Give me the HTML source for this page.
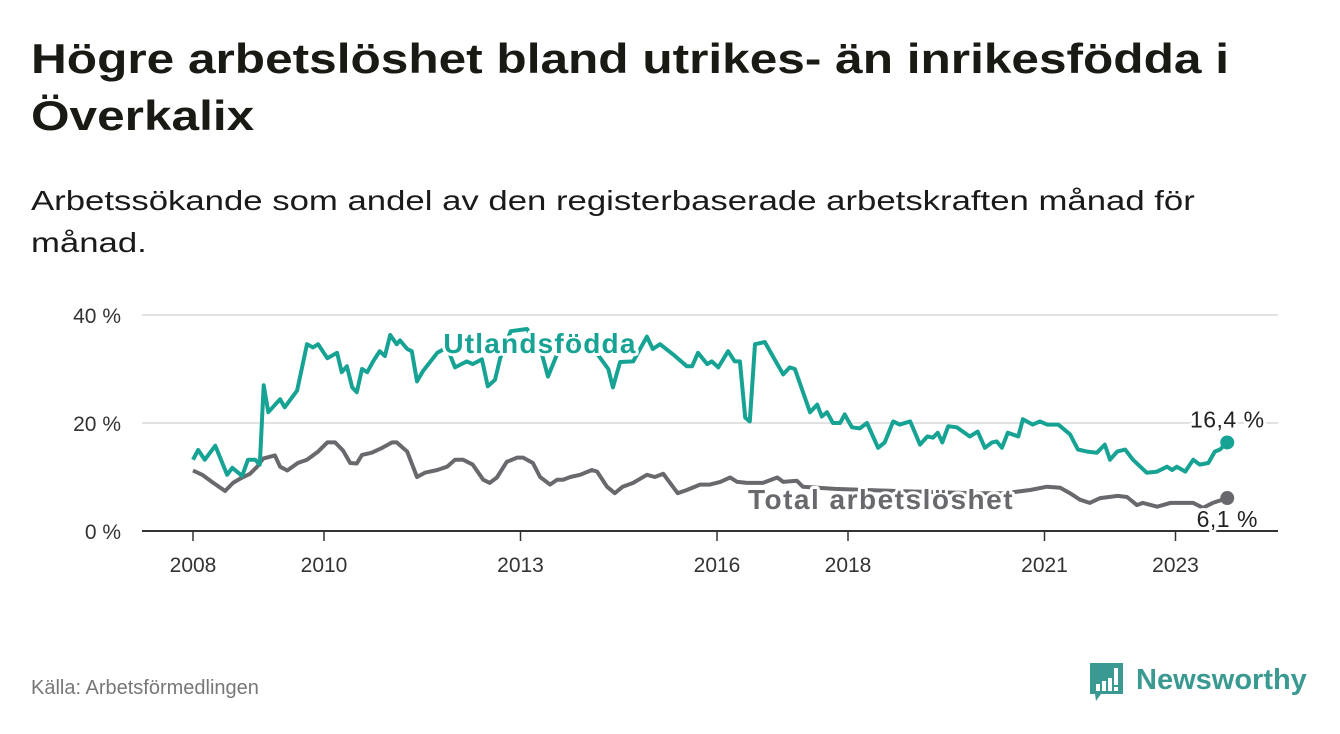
<!DOCTYPE html>
<html><head><meta charset="utf-8"><style>
body{margin:0;background:#fff;font-family:"Liberation Sans","DejaVu Sans",sans-serif;}
#wrap{position:relative;width:1340px;height:734px;overflow:hidden;background:#fff;}
h1{position:absolute;left:31px;top:30px;margin:0;font-size:42px;line-height:57px;font-weight:bold;color:#1a1a14;white-space:nowrap;transform:scaleX(1.18);transform-origin:0 0;}
.sub{position:absolute;left:31px;top:180px;margin:0;font-size:28px;line-height:42px;color:#1a1a1a;white-space:nowrap;transform:scaleX(1.24);transform-origin:0 0;}
.src{position:absolute;left:31px;top:677px;font-size:20px;color:#777;}
svg{position:absolute;left:0;top:0;}
</style></head><body>
<div id="wrap">
<h1>Högre arbetslöshet bland utrikes- än inrikesfödda i<br>Överkalix</h1>
<p class="sub">Arbetssökande som andel av den registerbaserade arbetskraften månad för<br>månad.</p>
<div class="src">Källa: Arbetsförmedlingen</div>
<svg id="chart" width="1340" height="734"></svg>
</div>
<script>
const utlDates=[2008.00,2008.08,2008.18,2008.34,2008.52,2008.60,2008.75,2008.84,2008.95,2009.02,2009.08,2009.15,2009.33,2009.40,2009.59,2009.74,2009.83,2009.91,2010.05,2010.20,2010.27,2010.35,2010.43,2010.50,2010.58,2010.66,2010.75,2010.85,2010.93,2011.01,2011.11,2011.16,2011.27,2011.34,2011.42,2011.51,2011.73,2011.88,2012.00,2012.18,2012.27,2012.41,2012.50,2012.61,2012.69,2012.85,2013.10,2013.30,2013.42,2013.60,2013.90,2014.10,2014.34,2014.41,2014.52,2014.72,2014.93,2015.02,2015.13,2015.33,2015.54,2015.62,2015.71,2015.85,2015.92,2016.02,2016.17,2016.27,2016.35,2016.43,2016.50,2016.58,2016.73,2016.85,2017.01,2017.11,2017.19,2017.42,2017.53,2017.60,2017.68,2017.77,2017.88,2017.95,2018.06,2018.18,2018.29,2018.46,2018.56,2018.69,2018.79,2018.95,2019.10,2019.21,2019.30,2019.37,2019.44,2019.53,2019.66,2019.86,2019.98,2020.09,2020.20,2020.27,2020.35,2020.44,2020.60,2020.67,2020.82,2020.93,2021.04,2021.21,2021.39,2021.51,2021.65,2021.80,2021.92,2022.00,2022.11,2022.23,2022.35,2022.56,2022.72,2022.87,2022.95,2023.02,2023.15,2023.27,2023.37,2023.50,2023.60,2023.68,2023.79];
const utlValues=[13.2,15,13.2,15.8,10.4,11.7,10.2,13.2,13.2,12.3,27,22,24.4,22.9,26,34.6,34,34.6,32,33,29.4,30.5,26.6,25.7,30,29.4,31.4,33.3,32.4,36.3,34.6,35.3,33.7,33.3,27.7,29.6,33,34,30.3,31.4,30.9,31.8,26.8,28,32,37,37.4,34,28.6,34,35,34,30,26.6,31.3,31.4,36,33.7,34.6,32.7,30.5,30.5,33,30.9,31.4,30.3,33.3,31.4,31.4,21,20.3,34.6,35,32.4,29,30.3,30,22,23.4,21.2,22,20,20,21.6,19.2,19,20,15.4,16.4,20.3,19.7,20.3,16,17.5,17.3,18.2,16.4,19.4,19.2,17.5,18.4,15.4,16.4,16.6,15.4,18.2,17.5,20.7,19.7,20.3,19.7,19.7,17.9,15.1,14.7,14.5,16,13.2,14.7,15.1,13.2,10.8,11,11.9,11.3,11.9,11,13.2,12.3,12.6,14.7,15.1,16.4];
const totDates=[2008.00,2008.14,2008.31,2008.49,2008.61,2008.72,2008.87,2008.98,2009.07,2009.25,2009.33,2009.44,2009.60,2009.74,2009.91,2010.05,2010.17,2010.29,2010.40,2010.50,2010.58,2010.73,2010.89,2011.04,2011.11,2011.27,2011.42,2011.54,2011.73,2011.88,2012.00,2012.12,2012.27,2012.43,2012.53,2012.64,2012.79,2012.95,2013.04,2013.19,2013.30,2013.45,2013.56,2013.65,2013.76,2013.91,2014.09,2014.17,2014.32,2014.44,2014.56,2014.72,2014.93,2015.05,2015.18,2015.40,2015.54,2015.74,2015.89,2016.05,2016.20,2016.31,2016.46,2016.70,2016.92,2017.01,2017.22,2017.31,2017.80,2018.50,2019.30,2020.00,2020.40,2020.78,2021.04,2021.24,2021.39,2021.54,2021.69,2021.85,2022.12,2022.26,2022.41,2022.50,2022.72,2022.92,2023.27,2023.42,2023.57,2023.79];
const totValues=[11.2,10.4,8.9,7.4,8.9,9.7,10.6,11.9,13.4,14,11.9,11.2,12.6,13.2,14.7,16.4,16.4,14.9,12.6,12.5,14.1,14.5,15.4,16.4,16.4,14.7,10,10.8,11.3,11.9,13.2,13.2,12.3,9.5,8.9,9.9,12.8,13.6,13.6,12.6,10,8.6,9.5,9.5,10,10.4,11.3,11,8.2,7,8.2,8.9,10.4,10,10.6,7,7.6,8.6,8.6,9.1,9.9,9.1,8.9,8.9,9.9,9.1,9.3,8.2,7.8,7.5,7.2,7.0,7.0,7.6,8.2,8,7,5.8,5.2,6.1,6.5,6.3,4.8,5.2,4.5,5.2,5.2,4.3,5.2,6.1];
const xTicks=[2008,2010,2013,2016,2018,2021,2023];
const yTicks=[0,20,40];
const yTickLabels=["0 %","20 %","40 %"];

const NS="http://www.w3.org/2000/svg";
const svg=document.getElementById('chart');
const X=v=>193+(v-2008)*65.5;
const Y=v=>531-v*5.4;
function el(tag,attrs,parent){const e=document.createElementNS(NS,tag);for(const k in attrs)e.setAttribute(k,attrs[k]);(parent||svg).appendChild(e);return e;}
const teal="#17a394",gray="#69686d";
yTicks.forEach((t,i)=>{
  if(t>0){const g=el('line',{x1:142,x2:1278,y1:Y(t),y2:Y(t),stroke:'#d9d9d9','stroke-width':1.5});
  
  }
  const tx=el('text',{x:121,y:Y(t)+8,'text-anchor':'end','font-size':21,fill:'#333'});
  
  
  tx.textContent=yTickLabels[i];
});
const ax=el('line',{x1:142,x2:1278,y1:531,y2:531,stroke:'#333','stroke-width':2});


xTicks.forEach(t=>{
  const tk=el('line',{x1:X(t),x2:X(t),y1:531,y2:541,stroke:'#333','stroke-width':1.5});
  
  
  const tx=el('text',{x:X(t),y:572,'text-anchor':'middle','font-size':21,fill:'#333'});
  
  
  tx.textContent=t;
});
function line(d,v,c,name){
  const p=el('path',{d:d.map((x,i)=>(i?'L':'M')+X(x).toFixed(1)+','+Y(v[i]).toFixed(1)).join(''),fill:'none',stroke:c,'stroke-width':4,'stroke-linejoin':'round'});
  
  
  const n=d.length-1;
  const c1=el('circle',{cx:X(d[n]),cy:Y(v[n]),r:7,fill:c});
  
  
}
line(totDates,totValues,gray,'total-line');
line(utlDates,utlValues,teal,'utlandsfodda-line');
function label(x,y,txt,c,size,w,anchor,ls,name){
  const t=el('text',{x:x,y:y,'text-anchor':anchor,'font-size':size,'font-weight':w,fill:c,stroke:'#fff','stroke-width':6,'paint-order':'stroke','stroke-linejoin':'round','letter-spacing':ls});
  
  
  t.textContent=txt;
}
label(540,353,'Utlandsfödda',teal,28,'bold','middle',1.2,'series-label-utlandsfodda');
label(881,509,'Total arbetslöshet',gray,28,'bold','middle',1.5,'series-label-total');
const ni=utlDates.length-1, nt=totDates.length-1;
label(X(utlDates[ni]),Y(utlValues[ni])-15,utlValues[ni].toFixed(1).replace('.',',')+' %','#222',23,'normal','middle',0.5,'end-value-utlandsfodda');
label(X(totDates[nt]),Y(totValues[nt])+29,totValues[nt].toFixed(1).replace('.',',')+' %','#222',23,'normal','middle',0.5,'end-value-total');
const lg=el('g',{});


el('path',{d:'M1090,663 h33 v31 h-22 l-5,7 l-1,-7 h-5 z',fill:'#3a9a92'},lg);
el('rect',{x:1096,y:684,width:4,height:7,fill:'#fff'},lg);
el('rect',{x:1102,y:681,width:4,height:10,fill:'#fff'},lg);
el('rect',{x:1108,y:678,width:4,height:13,fill:'#fff'},lg);
el('rect',{x:1114,y:668,width:4,height:17,fill:'#fff'},lg);
el('rect',{x:1114,y:687,width:4,height:4,fill:'#fff'},lg);
const lt=el('text',{x:1136,y:689,'font-size':29,'font-weight':'bold',fill:'#3a9a92'},lg);
lt.textContent='Newsworthy';
</script>
</body></html>
